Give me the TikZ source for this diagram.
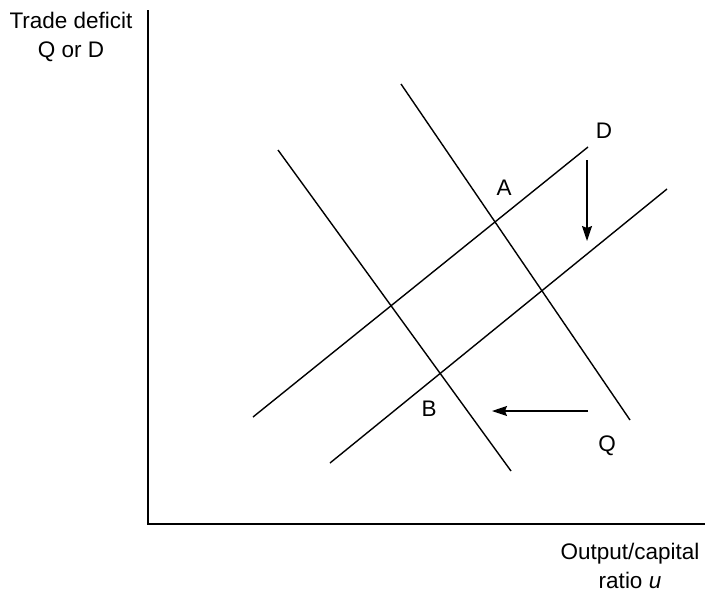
\documentclass[tikz,border=0pt]{standalone}
\usepackage{fontspec}
\setmainfont{Liberation Sans}
\usetikzlibrary{arrows.meta}
\begin{document}
\begin{tikzpicture}[x=1pt,y=-1pt,
  curve/.style={line width=1.4pt},
  shiftarrow/.style={line width=1.4pt,-{Stealth[length=15pt,width=10pt,inset=2pt]}},
  lbl/.style={font=\fontsize{22.5}{27}\selectfont, inner sep=0pt},
  axlbl/.style={font=\fontsize{22.5}{29}\selectfont, inner sep=0pt, align=center}]
\useasboundingbox (0,0) rectangle (708,592);
% axes
\coordinate (ytop) at (148,10);
\coordinate (orig) at (148,524);
\coordinate (xend) at (705,524);
\draw[curve] (ytop) -- (orig) -- (xend);
% Q curves
\coordinate (q1a) at (278,150);
\coordinate (q1b) at (511,471);
\coordinate (q2a) at (401,84);
\coordinate (q2b) at (630,420);
\draw[curve] (q1a) -- (q1b);
\draw[curve] (q2a) -- (q2b);
% D curves
\coordinate (d1a) at (253,417);
\coordinate (d1b) at (588,147);
\coordinate (d2a) at (330,463);
\coordinate (d2b) at (667,189);
\draw[curve] (d1a) -- (d1b);
\draw[curve] (d2a) -- (d2b);
% shift arrows
\coordinate (dnA) at (587,160);
\coordinate (dnB) at (587,241);
\coordinate (lfA) at (588,411);
\coordinate (lfB) at (492,411);
\draw[shiftarrow] (dnA) -- (dnB);
\draw[shiftarrow] (lfA) -- (lfB);
% labels
\node[axlbl] (ylab) at (71,37) {Trade deficit\\Q or D};
\node[axlbl] (xlab) at (630,566) {Output/capital\\ratio \textit{u}};
\node[lbl] (labD) at (604,131) {D};
\node[lbl] (labA) at (504,188) {A};
\node[lbl] (labB) at (429,409) {B};
\node[lbl] (labQ) at (607,446) {Q};
\end{tikzpicture}
\end{document}
